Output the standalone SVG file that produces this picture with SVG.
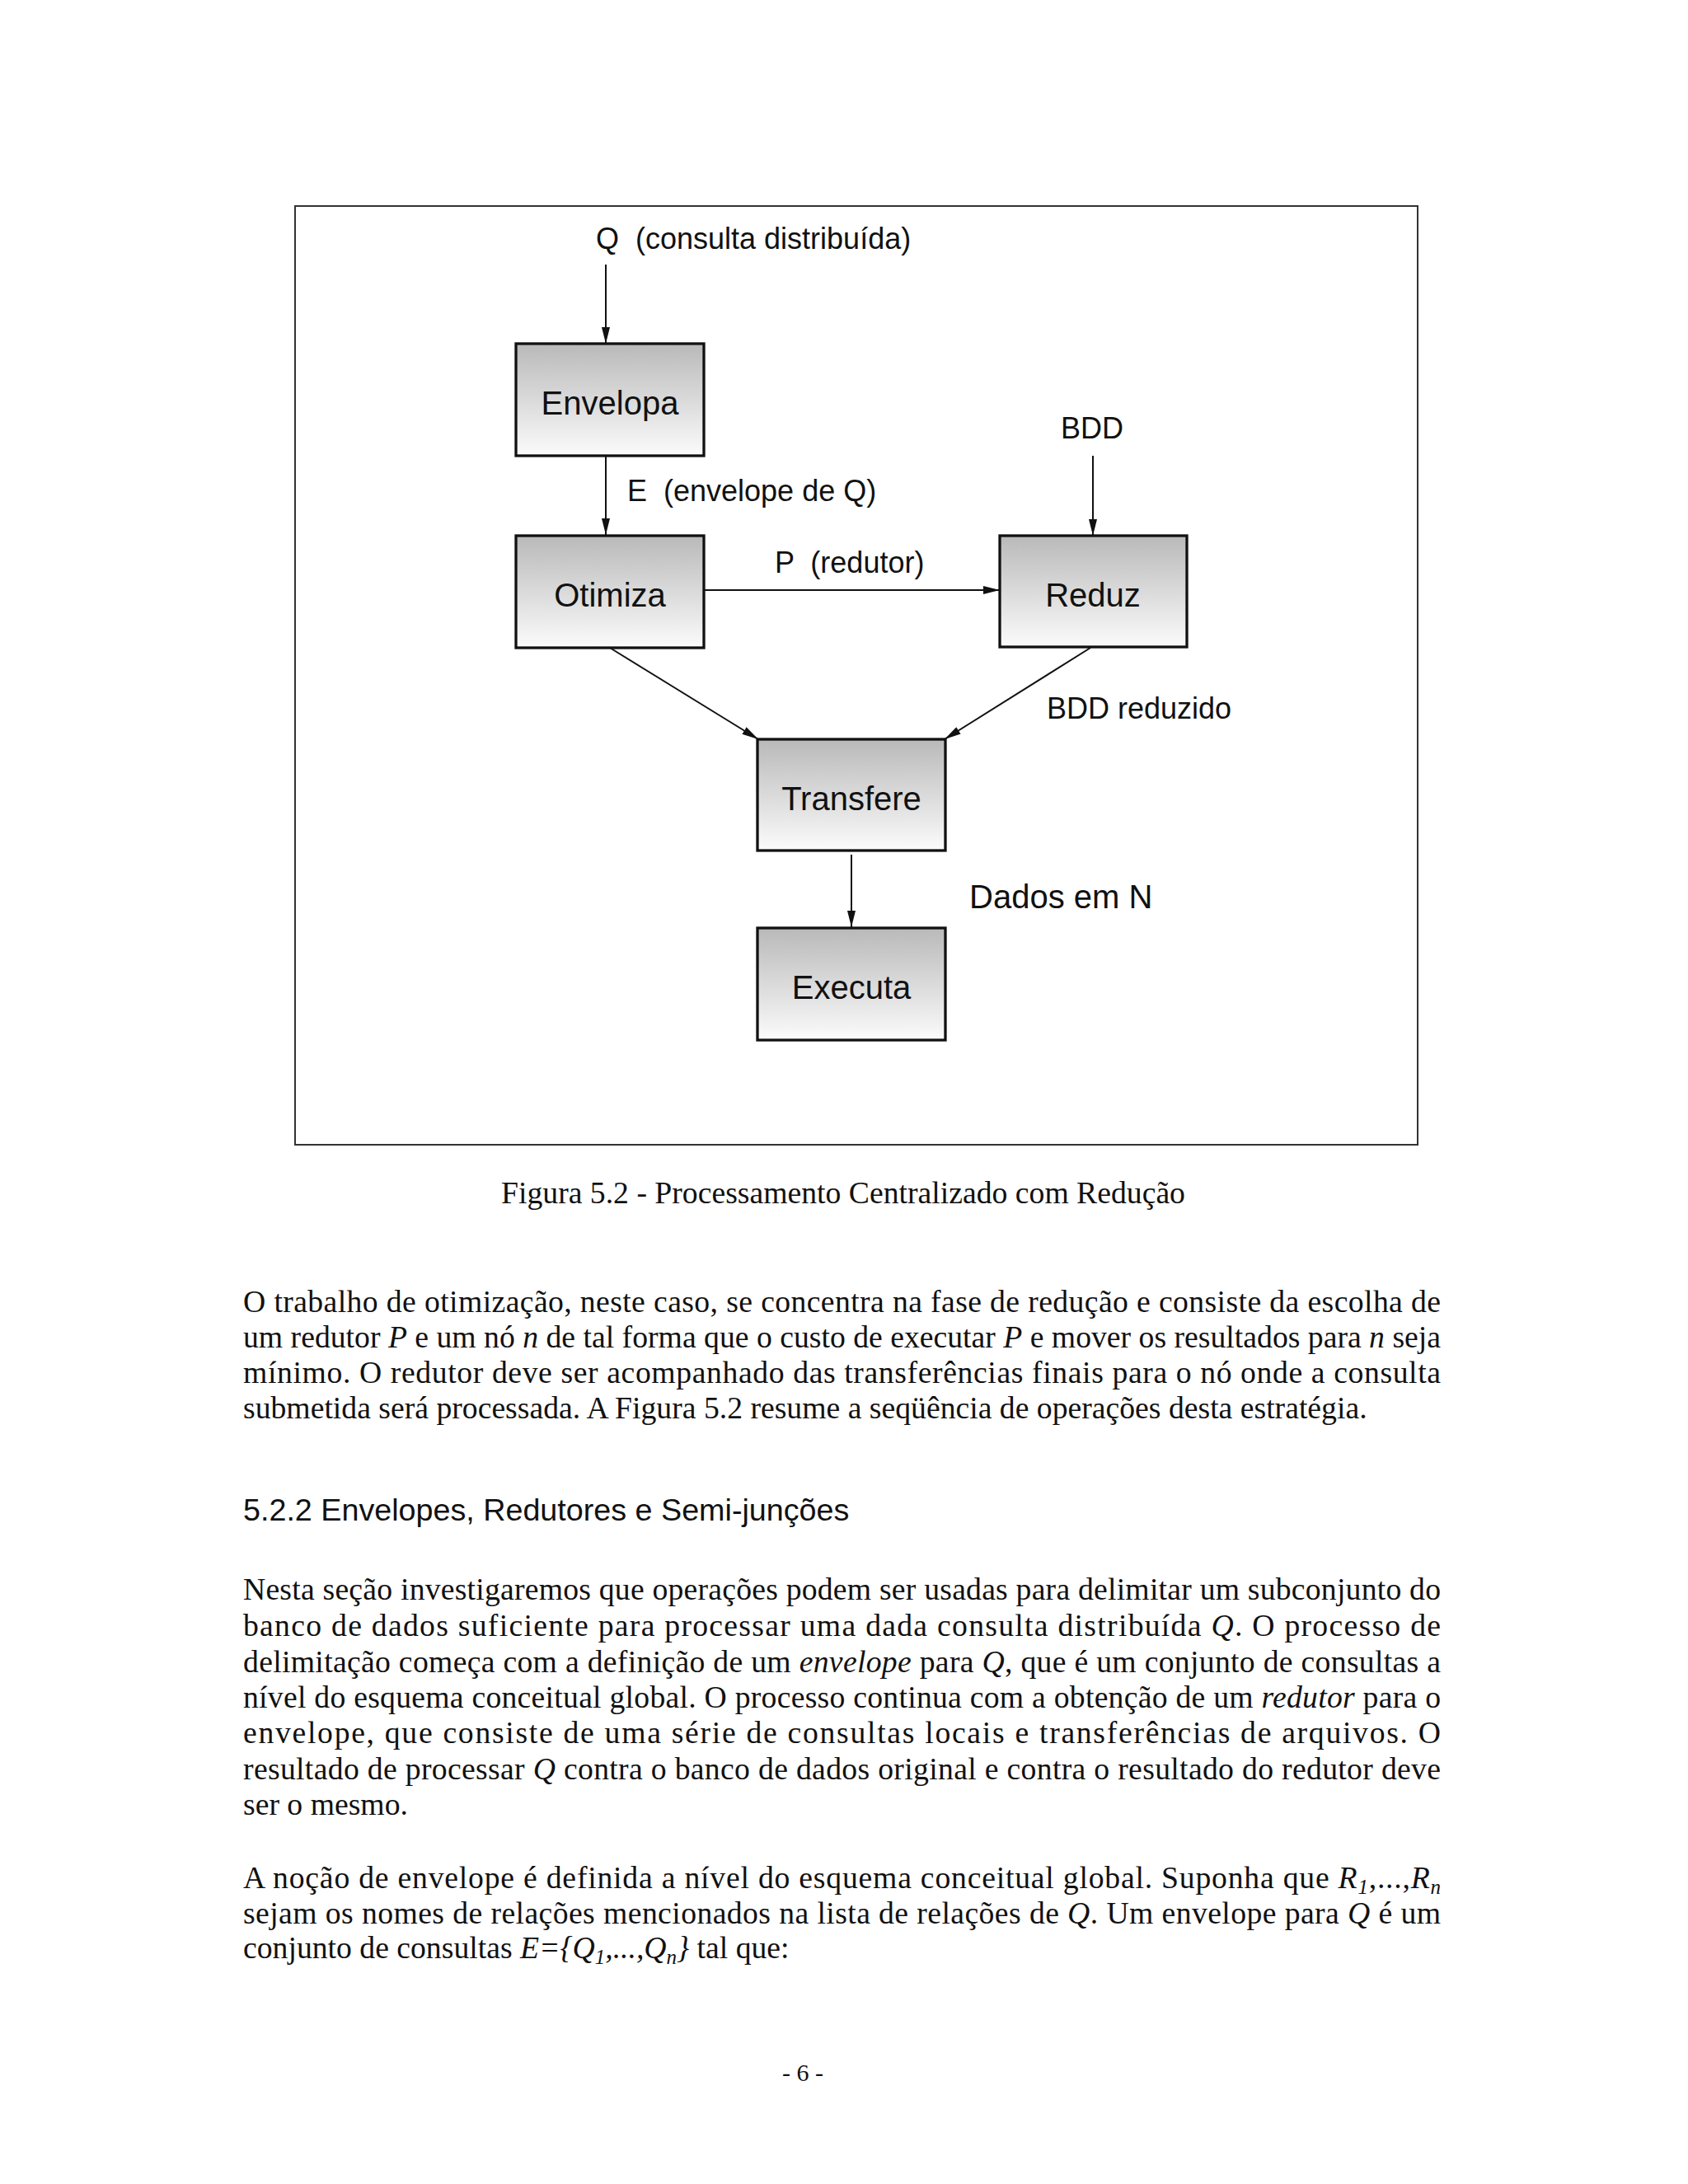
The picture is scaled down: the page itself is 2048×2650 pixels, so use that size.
<svg xmlns="http://www.w3.org/2000/svg" width="2048" height="2650" viewBox="0 0 2048 2650">
<style>
.box{stroke:#111;stroke-width:3.3;fill:url(#g)}
.bt{font-family:"Liberation Sans",Arial,sans-serif;font-size:40px;fill:#111;text-anchor:middle}
.lb{font-family:"Liberation Sans",Arial,sans-serif;font-size:36px;fill:#111;white-space:pre}
.cn{stroke:#111;stroke-width:2;fill:none;marker-end:url(#ah)}
.tx{font-family:"Liberation Serif","Times New Roman",serif;font-size:37.7px;fill:#111}
.hd{font-family:"Liberation Sans",Arial,sans-serif;font-size:37.7px;fill:#111}
.i{font-style:italic}
</style>
<defs>
<linearGradient id="g" x1="0" y1="0" x2="0" y2="1">
<stop offset="0" stop-color="#b9b9b9"/>
<stop offset="1" stop-color="#fbfbfb"/>
</linearGradient>
<marker id="ah" markerUnits="userSpaceOnUse" markerWidth="20" markerHeight="10" refX="20" refY="5" orient="auto">
<path d="M0,0 L20,5 L0,10 z" fill="#111"/>
</marker>
</defs>
<rect width="2048" height="2650" fill="#fff"/>
<rect id="frame" x="358" y="250" width="1362" height="1139" fill="none" stroke="#333" stroke-width="2"/>

<g id="connectors">
<line class="cn" x1="735" y1="321" x2="735" y2="417"/>
<line class="cn" x1="735" y1="553" x2="735" y2="649"/>
<line class="cn" x1="1326" y1="553" x2="1326" y2="650"/>
<line class="cn" x1="854" y1="716" x2="1213" y2="716"/>
<line class="cn" x1="740" y1="786" x2="920" y2="897"/>
<line class="cn" x1="1323" y1="786" x2="1146" y2="897"/>
<line class="cn" x1="1033" y1="1037" x2="1033" y2="1125"/>
</g>

<g id="labels">
<text class="lb" x="723" y="302">Q  (consulta distribuída)</text>
<text class="lb" x="761" y="608">E  (envelope de Q)</text>
<text class="lb" x="940" y="695">P  (redutor)</text>
<text class="lb" x="1287" y="532">BDD</text>
<text class="lb" x="1270" y="872">BDD reduzido</text>
<text class="lb" x="1176" y="1102" style="font-size:40px">Dados em N</text>
</g>

<g id="envelopa"><rect class="box" x="626" y="417" width="228" height="136"/><text class="bt" x="740" y="503">Envelopa</text></g>
<g id="otimiza"><rect class="box" x="626" y="650" width="228" height="136"/><text class="bt" x="740" y="736">Otimiza</text></g>
<g id="reduz"><rect class="box" x="1213" y="650" width="227" height="135"/><text class="bt" x="1326" y="736">Reduz</text></g>
<g id="transfere"><rect class="box" x="919" y="897" width="228" height="135"/><text class="bt" x="1033" y="983">Transfere</text></g>
<g id="executa"><rect class="box" x="919" y="1126" width="228" height="136"/><text class="bt" x="1033" y="1212">Executa</text></g>

<g id="text">
<text class="tx" x="1023" y="1460" text-anchor="middle">Figura 5.2 - Processamento Centralizado com Redução</text>

<text class="tx" x="295" y="1592" textLength="1453" lengthAdjust="spacing">O trabalho de otimização, neste caso, se concentra na fase de redução e consiste da escolha de</text>
<text class="tx" x="295" y="1635" textLength="1453" lengthAdjust="spacing">um redutor <tspan class="i">P</tspan> e um nó <tspan class="i">n</tspan> de tal forma que o custo de executar <tspan class="i">P</tspan> e mover os resultados para <tspan class="i">n</tspan> seja</text>
<text class="tx" x="295" y="1678" textLength="1453" lengthAdjust="spacing">mínimo. O redutor deve ser acompanhado das transferências finais para o nó onde a consulta</text>
<text class="tx" x="295" y="1721">submetida será processada. A Figura 5.2 resume a seqüência de operações desta estratégia.</text>

<text class="hd" x="295" y="1845">5.2.2 Envelopes, Redutores e Semi-junções</text>

<text class="tx" x="295" y="1941" textLength="1453" lengthAdjust="spacing">Nesta seção investigaremos que operações podem ser usadas para delimitar um subconjunto do</text>
<text class="tx" x="295" y="1985" textLength="1453" lengthAdjust="spacing">banco de dados suficiente para processar uma dada consulta distribuída <tspan class="i">Q</tspan>. O processo de</text>
<text class="tx" x="295" y="2029" textLength="1453" lengthAdjust="spacing">delimitação começa com a definição de um <tspan class="i">envelope</tspan> para <tspan class="i">Q</tspan>, que é um conjunto de consultas a</text>
<text class="tx" x="295" y="2072" textLength="1453" lengthAdjust="spacing">nível do esquema conceitual global. O processo continua com a obtenção de um <tspan class="i">redutor</tspan> para o</text>
<text class="tx" x="295" y="2115" textLength="1453" lengthAdjust="spacing">envelope, que consiste de uma série de consultas locais e transferências de arquivos. O</text>
<text class="tx" x="295" y="2159" textLength="1453" lengthAdjust="spacing">resultado de processar <tspan class="i">Q</tspan> contra o banco de dados original e contra o resultado do redutor deve</text>
<text class="tx" x="295" y="2202">ser o mesmo.</text>

<text class="tx" x="295" y="2291" textLength="1453" lengthAdjust="spacing">A noção de envelope é definida a nível do esquema conceitual global. Suponha que <tspan class="i">R</tspan><tspan class="i" font-size="25" dy="7">1</tspan><tspan dy="-7">,...,</tspan><tspan class="i">R</tspan><tspan class="i" font-size="25" dy="7">n</tspan></text>
<text class="tx" x="295" y="2334" textLength="1453" lengthAdjust="spacing">sejam os nomes de relações mencionados na lista de relações de <tspan class="i">Q</tspan>. Um envelope para <tspan class="i">Q</tspan> é um</text>
<text class="tx" x="295" y="2376">conjunto de consultas <tspan class="i">E={Q</tspan><tspan class="i" font-size="25" dy="7">1</tspan><tspan class="i" dy="-7">,...,Q</tspan><tspan class="i" font-size="25" dy="7">n</tspan><tspan class="i" dy="-7">}</tspan> tal que:</text>

<text class="tx" x="974" y="2525" text-anchor="middle" style="font-size:30px">- 6 -</text>
</g>
</svg>
